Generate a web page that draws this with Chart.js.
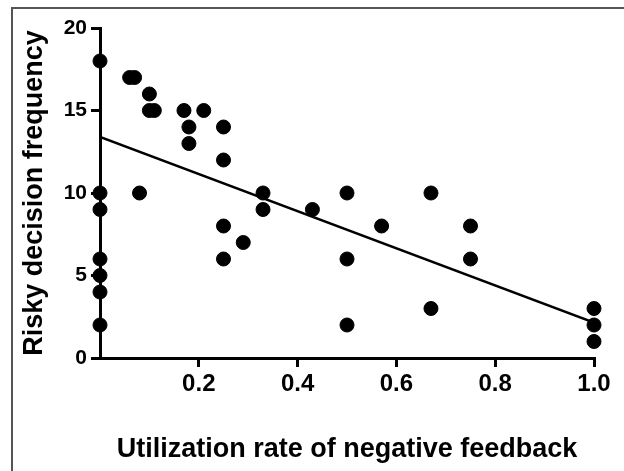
<!DOCTYPE html>
<html>
<head>
<meta charset="utf-8">
<script src="https://cdn.jsdelivr.net/npm/chart.js@4.4.0/dist/chart.umd.min.js"></script>
<style>
  body { margin: 0; background: #fff; }
  #frame { position: absolute; left: 11px; top: 7px; width: 613px; height: 464px;
           border-top: 2px solid #555; border-left: 2px solid #555; }
  #wrap { position: absolute; left: 0; top: 0; width: 624px; height: 471px; }
</style>
</head>
<body>
<div id="frame"></div>
<div id="wrap"><canvas id="scatterChart" width="624" height="471"></canvas></div>
<script>
// valores
const feedbackRate = [0, 0, 0, 0, 0, 0, 0,
  0.06, 0.07, 0.08, 0.1, 0.1, 0.11,
  0.17, 0.21, 0.18, 0.18,
  0.25, 0.25, 0.25, 0.25, 0.29,
  0.33, 0.33, 0.43,
  0.5, 0.5, 0.5, 0.57, 0.67, 0.67, 0.75, 0.75,
  1.0, 1.0, 1.0];
const riskyFreq = [18, 10, 9, 6, 5, 4, 2,
  17, 17, 10, 16, 15, 15,
  15, 15, 14, 13,
  14, 12, 8, 6, 7,
  10, 9, 9,
  10, 6, 2, 8, 10, 3, 8, 6,
  3, 2, 1];

// reta de regressão
const fitX = [0, 1.0];
const fitY = [13.4, 2.15];

const xTicks = [0.2, 0.4, 0.6, 0.8, 1.0];
const yTicks = [0, 5, 10, 15, 20];

const fontFamily = "'Liberation Sans', Arial, sans-serif";

const points = feedbackRate.map((x, i) => ({ x: x, y: riskyFreq[i] }));
const fitLine = fitX.map((x, i) => ({ x: x, y: fitY[i] }));

const chartCanvas = document.getElementById('scatterChart');

const config = {
  type: 'scatter',
  data: {
    datasets: [{
      label: 'Dados',
      data: points,
      backgroundColor: '#000',
      borderColor: '#000',
      pointRadius: 7,
      pointHoverRadius: 7,
      clip: false
    },
    {
      type: 'line',
      label: 'Regressão',
      data: fitLine,
      borderColor: '#000',
      borderWidth: 2.5,
      pointRadius: 0,
      fill: false
    }]
  },
  options: {
    responsive: false,
    animation: false,
    layout: { padding: { top: 28, right: 30, left: 0, bottom: 0 } },
    plugins: {
      legend: { display: false },
      tooltip: { enabled: false }
    },
    scales: {
      x: {
        type: 'linear',
        min: 0,
        max: 1.0,
        afterBuildTicks: s => { s.ticks = xTicks.map(v => ({ value: v })); },
        afterFit: s => { s.height = 113; },
        border: { display: true, color: '#000', width: 3 },
        grid: { drawOnChartArea: false, drawTicks: true, tickLength: 9, color: '#000', lineWidth: 3 },
        ticks: {
          color: '#000',
          padding: 3,
          maxRotation: 0,
          font: { family: fontFamily, size: 24, weight: 'bold' },
          callback: v => Number(v).toFixed(1)
        },
        title: {
          display: true,
          text: 'Utilization rate of negative feedback',
          color: '#000',
          padding: { top: 0, bottom: 5 },
          font: { family: fontFamily, size: 27, weight: 'bold' }
        }
      },
      y: {
        type: 'linear',
        min: 0,
        max: 20,
        afterBuildTicks: s => { s.ticks = yTicks.map(v => ({ value: v })); },
        afterFit: s => { s.width = 100; },
        border: { display: true, color: '#000', width: 3 },
        grid: { drawOnChartArea: false, drawTicks: true, tickLength: 9, color: '#000', lineWidth: 3 },
        ticks: {
          color: '#000',
          padding: 4,
          font: { family: fontFamily, size: 21, weight: 'bold' }
        },
        title: {
          display: true,
          text: 'Risky decision frequency',
          color: '#000',
          padding: { top: 18, bottom: 0 },
          font: { family: fontFamily, size: 27, weight: 'bold' }
        }
      }
    }
  }
};

const myChart = new Chart(chartCanvas, config);
</script>
</body>
</html>
